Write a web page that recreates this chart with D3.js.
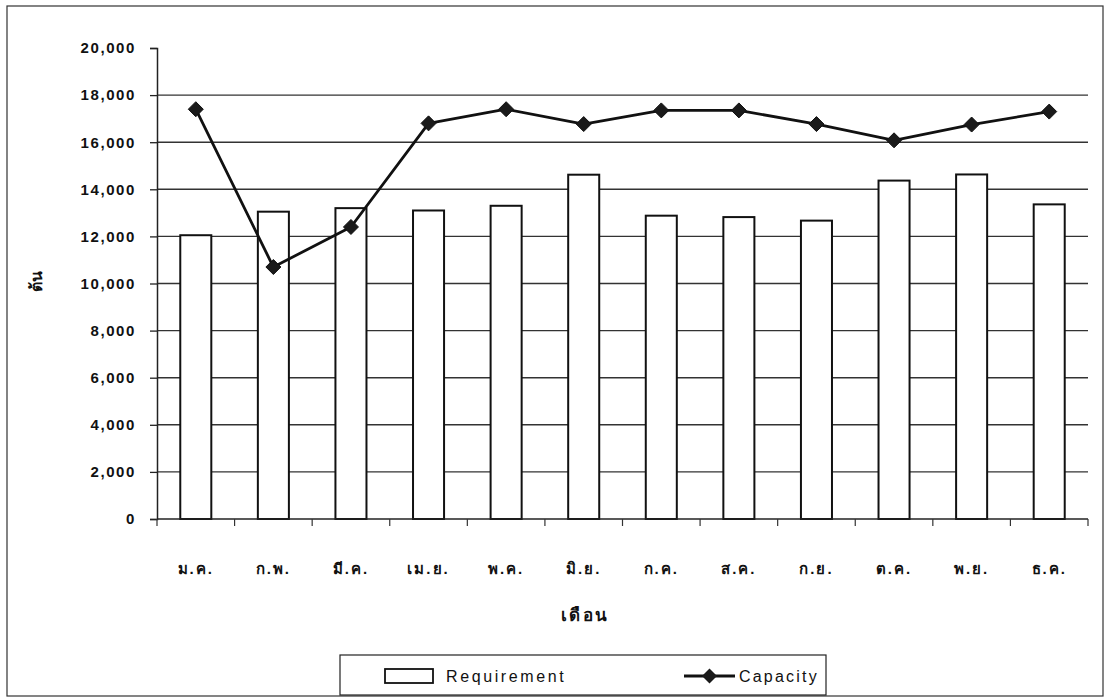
<!DOCTYPE html>
<html>
<head>
<meta charset="utf-8">
<script src="https://cdn.jsdelivr.net/npm/d3@7/dist/d3.min.js"></script>
<style>
  html, body { margin: 0; padding: 0; background: #fff; }
  svg { display: block; }
  text { font-family: "Liberation Sans", Arial, "Noto Sans", "DejaVu Sans", sans-serif; fill: #111; }
</style>
</head>
<body>
<svg id="chart" width="1105" height="698"></svg>
<script>
// Monthly figures (tons)
const months = ["ม.ค.", "ก.พ.", "มี.ค.", "เม.ย.", "พ.ค.", "มิ.ย.", "ก.ค.", "ส.ค.", "ก.ย.", "ต.ค.", "พ.ย.", "ธ.ค."];
const requirement = [12050, 13050, 13200, 13100, 13300, 14620, 12880, 12820, 12670, 14370, 14630, 13360];
const capacity = [17400, 10700, 12400, 16800, 17400, 16770, 17350, 17350, 16770, 16080, 16750, 17300];
const yTicks = [0, 2000, 4000, 6000, 8000, 10000, 12000, 14000, 16000, 18000, 20000];
const seriesNames = ["Requirement", "Capacity"];
const xTitle = "เดือน";
const yTitle = "ต้น";

const svg = d3.select("#chart");

// Outer chart frame
svg.append("rect")
  .attr("x", 7).attr("y", 6).attr("width", 1096).attr("height", 690)
  .attr("fill", "none").attr("stroke", "#333").attr("stroke-width", 1.2);

const plot = { left: 157, right: 1088, top: 48, bottom: 519 };

const x = d3.scaleBand()
  .domain(months)
  .range([plot.left, plot.right])
  .paddingInner(0.6)
  .paddingOuter(0.3);

const y = d3.scaleLinear()
  .domain([0, 20000])
  .range([plot.bottom, plot.top]);

// Horizontal gridlines (none at the top value)
svg.append("g")
  .selectAll("line")
  .data(yTicks.filter(v => v > 0 && v < 20000))
  .join("line")
  .attr("x1", plot.left).attr("x2", plot.right)
  .attr("y1", d => y(d)).attr("y2", d => y(d))
  .attr("stroke", "#333").attr("stroke-width", 1.4);

// Y axis
const yAxis = d3.axisLeft(y)
  .tickValues(yTicks)
  .tickFormat(d3.format(","))
  .tickSize(7)
  .tickPadding(14);
const gy = svg.append("g")
  .attr("transform", `translate(${plot.left},0)`)
  .call(yAxis);
gy.select(".domain").attr("stroke", "#222").attr("stroke-width", 1.5);
gy.selectAll(".tick line").attr("stroke", "#222").attr("stroke-width", 1.3);
gy.selectAll(".tick text")
  .style("font-size", "15px").style("font-weight", "bold")
  .style("letter-spacing", "1.6px")
  .attr("fill", "#111");

// Bars
svg.append("g")
  .selectAll("rect")
  .data(months.map((m, i) => ({ m, v: requirement[i] })))
  .join("rect")
  .attr("x", d => x(d.m))
  .attr("y", d => y(d.v))
  .attr("width", x.bandwidth())
  .attr("height", d => y(0) - y(d.v))
  .attr("fill", "#fff")
  .attr("stroke", "#111")
  .attr("stroke-width", 2);

// X axis with ticks between categories
const gx = svg.append("g").attr("transform", `translate(0,${plot.bottom})`);
gx.append("line")
  .attr("x1", plot.left).attr("x2", plot.right)
  .attr("stroke", "#222").attr("stroke-width", 1.5);
const boundaries = d3.range(months.length + 1).map(i => plot.left + (plot.right - plot.left) * i / months.length);
gx.selectAll("line.tk")
  .data(boundaries)
  .join("line")
  .attr("class", "tk")
  .attr("x1", d => d).attr("x2", d => d)
  .attr("y1", 0).attr("y2", 7)
  .attr("stroke", "#333").attr("stroke-width", 1.2);
gx.selectAll("text")
  .data(months)
  .join("text")
  .attr("x", d => x(d) + x.bandwidth() / 2)
  .attr("y", 55)
  .attr("text-anchor", "middle")
  .style("font-size", "15px").style("font-weight", "bold")
  .style("letter-spacing", "2px")
  .text(d => d);

// Capacity line with diamond markers
const cx = i => x(months[i]) + x.bandwidth() / 2;
const line = d3.line()
  .x((d, i) => cx(i))
  .y(d => y(d));
svg.append("path")
  .datum(capacity)
  .attr("d", line)
  .attr("fill", "none")
  .attr("stroke", "#111")
  .attr("stroke-width", 2.8)
  .attr("stroke-linejoin", "round");

const diamond = r => `M0,${-r}L${r},0L0,${r}L${-r},0Z`;
svg.append("g")
  .selectAll("path")
  .data(capacity)
  .join("path")
  .attr("transform", (d, i) => `translate(${cx(i)},${y(d)})`)
  .attr("d", diamond(7.5))
  .attr("fill", "#1a1a1a")
  .attr("stroke", "#111")
  .attr("stroke-width", 1);

// Axis titles
svg.append("text")
  .attr("x", 585).attr("y", 621)
  .attr("text-anchor", "middle")
  .style("font-size", "17px").style("font-weight", "bold")
  .style("letter-spacing", "2.5px")
  .text(xTitle);

svg.append("text")
  .attr("transform", "translate(42,281) rotate(-90)")
  .attr("text-anchor", "middle")
  .style("font-size", "16px").style("font-weight", "bold")
  .text(yTitle);

// Legend
const lg = svg.append("g");
lg.append("rect")
  .attr("x", 340).attr("y", 655).attr("width", 486).attr("height", 40)
  .attr("fill", "#fff").attr("stroke", "#222").attr("stroke-width", 1.2);
lg.append("rect")
  .attr("x", 385).attr("y", 669).attr("width", 48).attr("height", 14)
  .attr("fill", "#fff").attr("stroke", "#111").attr("stroke-width", 1.8);
lg.append("text")
  .attr("x", 446).attr("y", 682)
  .style("font-size", "16px").style("letter-spacing", "2.6px")
  .text(seriesNames[0]);
lg.append("line")
  .attr("x1", 684).attr("x2", 735).attr("y1", 676).attr("y2", 676)
  .attr("stroke", "#111").attr("stroke-width", 2.8);
lg.append("path")
  .attr("transform", "translate(709.5,676)")
  .attr("d", diamond(7.5))
  .attr("fill", "#1a1a1a");
lg.append("text")
  .attr("x", 739).attr("y", 682)
  .style("font-size", "16px").style("letter-spacing", "2.2px")
  .text(seriesNames[1]);
</script>
</body>
</html>
